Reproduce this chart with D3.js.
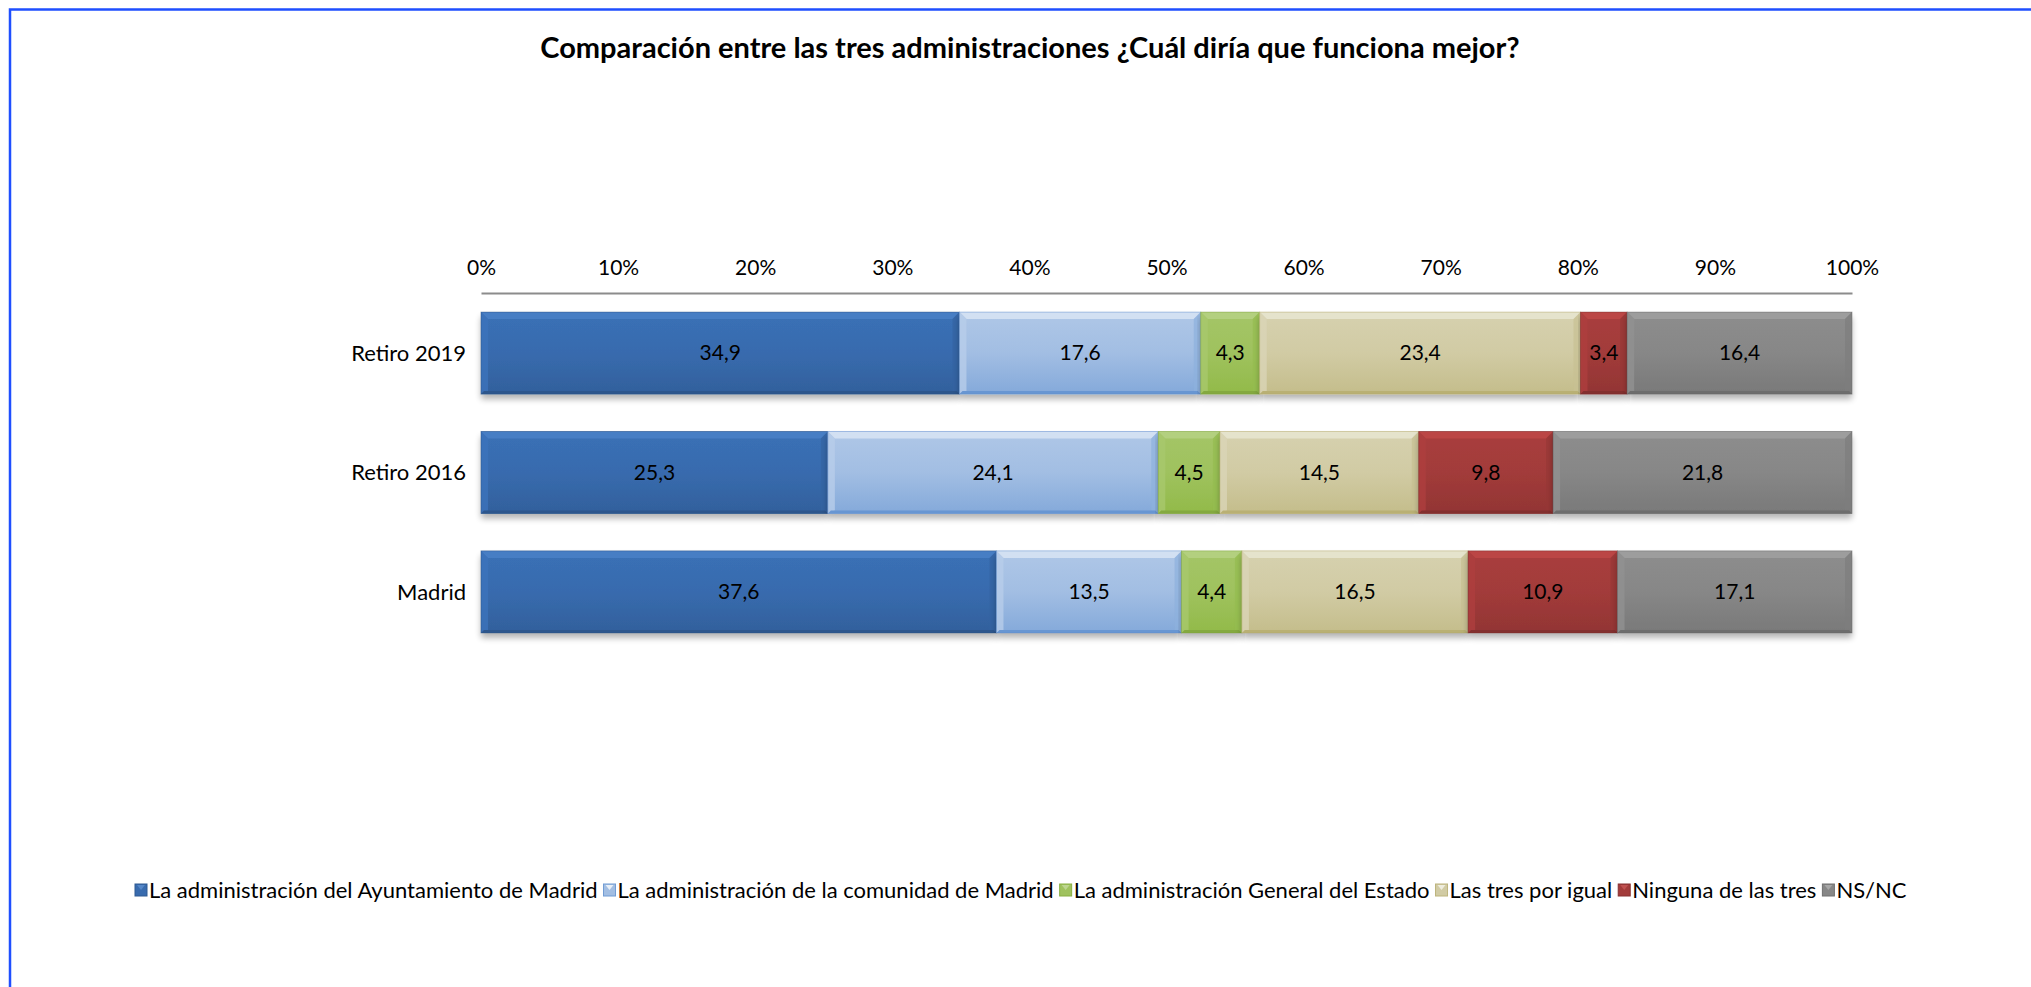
<!DOCTYPE html>
<html>
<head>
<meta charset="utf-8">
<script src="https://cdn.jsdelivr.net/npm/d3@7"></script>
<style>
  html, body { margin: 0; padding: 0; background: #fff; }
  svg { display: block; font-family: Lato, "Open Sans", sans-serif; }
</style>
</head>
<body>
<svg id="chart" width="2031" height="987"></svg>
<script>
// Survey categories (rows, top to bottom)
const categories = ["Retiro 2019", "Retiro 2016", "Madrid"];

// Answer options (stack order, left to right)
const seriesNames = [
  "La administración del Ayuntamiento de Madrid",
  "La administración de la comunidad de Madrid",
  "La administración General del Estado",
  "Las tres por igual",
  "Ninguna de las tres",
  "NS/NC"
];

// Percentages per answer option, one value per category
const ayuntamiento = [34.9, 25.3, 37.6];
const comunidad    = [17.6, 24.1, 13.5];
const estado       = [4.3, 4.5, 4.4];
const tresIgual    = [23.4, 14.5, 16.5];
const ninguna      = [3.4, 9.8, 10.9];
const nsnc         = [16.4, 21.8, 17.1];

const seriesValues = [ayuntamiento, comunidad, estado, tresIgual, ninguna, nsnc];

const tickValues = [0, 10, 20, 30, 40, 50, 60, 70, 80, 90, 100];
const titleText = "Comparación entre las tres administraciones ¿Cuál diría que funciona mejor?";

const colors = ["#386BAE", "#A2BEE3", "#9FC25E", "#D1CBA4", "#A23B3A", "#878787"];

// Build table for d3.stack
const rows = categories.map((c, i) => {
  const r = { category: c };
  seriesNames.forEach((s, k) => { r[s] = seriesValues[k][i]; });
  return r;
});
const stacked = d3.stack().keys(seriesNames)(rows);

const svg = d3.select("#chart");

// Frame
svg.append("rect")
  .attr("x", 10).attr("y", 9.5)
  .attr("width", 2040).attr("height", 1000)
  .attr("fill", "none").attr("stroke", "#1F4FFF").attr("stroke-width", 2.5);

// Gradients and shadow
const defs = svg.append("defs");
colors.forEach((c, k) => {
  const base = d3.hsl(c);
  const g = defs.append("linearGradient")
    .attr("id", "grad" + k).attr("x1", 0).attr("y1", 0).attr("x2", 0).attr("y2", 1);
  g.append("stop").attr("offset", "0%").attr("stop-color", d3.hsl(base).brighter(0.12));
  g.append("stop").attr("offset", "50%").attr("stop-color", c);
  g.append("stop").attr("offset", "100%").attr("stop-color", d3.hsl(base).darker(0.3));
});
const shadow = defs.append("filter").attr("id", "shadow")
  .attr("x", "-5%").attr("y", "-10%").attr("width", "110%").attr("height", "140%");
shadow.append("feGaussianBlur").attr("in", "SourceAlpha").attr("stdDeviation", 3);
shadow.append("feOffset").attr("dx", 0).attr("dy", 5).attr("result", "ob");
shadow.append("feComponentTransfer").append("feFuncA").attr("type", "linear").attr("slope", 0.3);
const merge = shadow.append("feMerge");
merge.append("feMergeNode");
merge.append("feMergeNode").attr("in", "SourceGraphic");

// Scales
const x = d3.scaleLinear().domain([0, 100]).range([481, 1852]);
const y = d3.scaleBand().domain(categories).range([293, 652]).paddingInner(0.313).paddingOuter(0.16);

// Title
svg.append("text")
  .attr("x", 1030).attr("y", 58)
  .attr("text-anchor", "middle")
  .attr("font-size", 29).attr("font-weight", "bold").attr("fill", "#000")
  .text(titleText);

// Top axis
const axis = svg.append("g").attr("transform", "translate(0,293)")
  .call(d3.axisTop(x).tickValues(tickValues).tickFormat(d => d + "%").tickSize(0).tickPadding(18));
axis.select(".domain").attr("stroke", "#8C8C8C").attr("stroke-width", 2);
axis.selectAll("text").attr("font-size", 21).attr("fill", "#000").attr("font-family", "Lato, sans-serif");

// Category labels
svg.append("g").selectAll("text").data(categories).join("text")
  .attr("x", 466).attr("y", d => y(d) + y.bandwidth() / 2)
  .attr("dy", "0.35em").attr("text-anchor", "end")
  .attr("font-size", 22).attr("fill", "#000")
  .text(d => d);

// Bars
const bev = 7;
const layers = svg.append("g").selectAll("g").data(stacked).join("g");
layers.each(function(layer, k) {
  const g = d3.select(this);
  const base = d3.hsl(colors[k]);
  layer.forEach(d => {
    const x0 = x(d[0]), x1 = x(d[1]);
    const y0 = y(d.data.category), y1 = y0 + y.bandwidth();
    const seg = g.append("g");
    seg.append("rect")
      .attr("x", x0).attr("y", y0).attr("width", x1 - x0).attr("height", y1 - y0)
      .attr("fill", "url(#grad" + k + ")").attr("filter", "url(#shadow)");
    // top bevel
    seg.append("polygon")
      .attr("points", [[x0, y0], [x1, y0], [x1 - bev, y0 + bev], [x0 + bev, y0 + bev]].join(" "))
      .attr("fill", base.brighter(0.45)).attr("opacity", 0.9);
    // left bevel
    seg.append("polygon")
      .attr("points", [[x0, y0], [x0 + bev, y0 + bev], [x0 + bev, y1 - 3], [x0, y1]].join(" "))
      .attr("fill", base.brighter(0.2)).attr("opacity", 0.8);
    // right bevel
    seg.append("polygon")
      .attr("points", [[x1, y0], [x1, y1], [x1 - bev, y1 - 3], [x1 - bev, y0 + bev]].join(" "))
      .attr("fill", base.darker(0.2)).attr("opacity", 0.7);
    // bottom bevel
    seg.append("polygon")
      .attr("points", [[x0, y1], [x1, y1], [x1 - 3, y1 - 3], [x0 + 3, y1 - 3]].join(" "))
      .attr("fill", base.darker(0.6));
    // segment edges
    seg.append("rect")
      .attr("x", x0).attr("y", y0).attr("width", x1 - x0).attr("height", y1 - y0)
      .attr("fill", "none").attr("stroke", base.darker(0.7)).attr("stroke-width", 0.8).attr("opacity", 0.6);
    // value label
    seg.append("text")
      .attr("x", (x0 + x1) / 2).attr("y", (y0 + y1) / 2)
      .attr("dy", "0.35em").attr("text-anchor", "middle")
      .attr("font-size", 21).attr("fill", "#000")
      .text(d3.format(".1f")(d[1] - d[0]).replace(".", ","));
  });
});

// Legend
const legend = svg.append("g").attr("transform", "translate(0,890)");
let lx = 135;
seriesNames.forEach((name, k) => {
  const base = d3.hsl(colors[k]);
  legend.append("rect").attr("x", lx).attr("y", -6).attr("width", 12).attr("height", 12)
    .attr("fill", colors[k]).attr("stroke", base.darker(0.5)).attr("stroke-width", 1);
  legend.append("polygon")
    .attr("points", [[lx + 2, -5], [lx + 10, -5], [lx + 6, 0]].join(" "))
    .attr("fill", base.brighter(0.6));
  const t = legend.append("text").attr("x", lx + 14).attr("y", 0).attr("dy", "0.35em")
    .attr("font-size", 22).attr("fill", "#000").text(name);
  lx += 14 + t.node().getComputedTextLength() + 6;
});
</script>
</body>
</html>
